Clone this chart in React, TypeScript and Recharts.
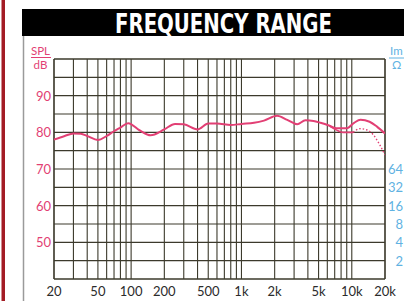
import React from "react";
import { LineChart, Line, XAxis, YAxis, CartesianGrid, ReferenceLine } from "recharts";

const freqs = [20, 25, 30, 35, 40, 50, 60, 70, 80, 94, 120, 150, 200, 250, 300, 400, 500, 600, 800, 1000, 1300, 1600, 2100, 2600, 3200, 3800, 4500, 5200, 6300, 7300, 8300, 9000, 10300, 10500, 11900, 12000, 13600, 14500, 15700, 17000, 18000, 20000];
const splMain: (number | null)[] = [78.0, 79.0, 79.7, 79.6, 79.0, 77.9, 79.0, 80.3, 81.3, 82.5, 80.5, 79.2, 80.8, 82.3, 82.2, 80.8, 82.4, 82.4, 82.0, 82.3, 82.6, 83.2, 84.5, 83.4, 82.2, 83.3, 83.1, 82.6, 81.8, 81.1, null, 81.1, null, 82.6, null, 83.4, null, 82.9, null, 81.5, null, 79.7];
const splAltSolid: (number | null)[] = [null, null, null, null, null, null, null, null, null, null, null, null, null, null, null, null, null, null, null, null, null, null, null, null, null, null, null, null, 81.7, 80.6, 80.0, null, 80.0, null, null, null, null, null, null, null, null, null];
const splAltDotted: (number | null)[] = [null, null, null, null, null, null, null, null, null, null, null, null, null, null, null, null, null, null, null, null, null, null, null, null, null, null, null, null, null, null, null, null, 80.0, null, 81.0, null, 80.7, null, 79.3, null, 76.5, 73.8];

const gridFreqs = [20, 30, 40, 50, 60, 70, 80, 90, 100, 200, 300, 400, 500, 600, 700, 800, 900, 1000, 2000, 3000, 4000, 5000, 6000, 7000, 8000, 9000, 10000, 20000];
const freqLabelValues = [20, 50, 100, 200, 500, 1000, 2000, 5000, 10000, 20000];
const freqLabelTexts = ["20", "50", "100", "200", "500", "1k", "2k", "5k", "10k", "20k"];
const dbGrid = [40, 45, 50, 55, 60, 65, 70, 75, 80, 85, 90, 95, 100];
const dbLabels = [50, 60, 70, 80, 90];
const ohmTicks = [2, 4, 8, 16, 32, 64];
const freqBounds = [20, 20000];
const dbBounds = [40, 100];

const data = freqs.map((f, i) => ({
  f,
  main: splMain[i],
  altSolid: splAltSolid[i],
  altDotted: splAltDotted[i],
}));

const PINK = "#e23f74";
const BLUE = "#5fb2e2";
const GRID = "#3c3a2c";
const FONT = "Lato, 'Open Sans', sans-serif";

const LeftTick = (props: any) => {
  const v = props.payload.value;
  if (!dbLabels.includes(v)) return null;
  return (
    <text x={51} y={props.y} textAnchor="end" dominantBaseline="central" fill={PINK} fontSize={13} fontFamily={FONT}>
      {v}
    </text>
  );
};

const RightTick = (props: any) => {
  const v = props.payload.value;
  return (
    <text x={403} y={props.y} textAnchor="end" dominantBaseline="central" fill={BLUE} fontSize={13} fontFamily={FONT}>
      {v}
    </text>
  );
};

const BottomTick = (props: any) => {
  const v = props.payload.value;
  const idx = freqLabelValues.indexOf(v);
  if (idx < 0) return null;
  return (
    <text x={props.x} y={291} textAnchor="middle" dominantBaseline="central" fill="#2b2b2b" fontSize={13} fontFamily={FONT}>
      {freqLabelTexts[idx]}
    </text>
  );
};

export default function App() {
  return (
    <div style={{ position: "absolute", left: 0, top: 0, width: 404, height: 301, background: "#fff", overflow: "hidden" }}>
      <svg width={404} height={301} style={{ position: "absolute", left: 0, top: 0 }}>
        <rect x={1.5} y={0} width={3.5} height={301} fill="#a31c24" />
        <rect x={22} y={9} width={382} height={27} fill="#000" />
        <line x1={23.5} y1={36} x2={23.5} y2={301} stroke="#9a9a9a" strokeWidth={1.5} />
        <text x={223.5} y={33} textAnchor="middle" fill="#fff" fontSize={26} fontWeight="bold"
          fontFamily="'Liberation Sans Narrow', 'DejaVu Sans Condensed', 'Arial Narrow', sans-serif"
          textLength={217} lengthAdjust="spacingAndGlyphs">
          FREQUENCY RANGE
        </text>
        <text x={40.5} y={54.5} textAnchor="middle" fill={PINK} fontSize={11.5} fontFamily={FONT}>SPL</text>
        <line x1={31} y1={57.5} x2={51} y2={57.5} stroke={PINK} strokeWidth={1} />
        <text x={40.5} y={69} textAnchor="middle" fill={PINK} fontSize={11.5} fontFamily={FONT}>dB</text>
        <text x={390} y={54.5} textAnchor="start" fill={BLUE} fontSize={11.5} fontFamily={FONT}>Im</text>
        <line x1={389} y1={58} x2={404} y2={58} stroke={BLUE} strokeWidth={1} />
        <text x={392} y={69} textAnchor="start" fill={BLUE} fontSize={11.5} fontFamily={FONT}>Ω</text>
      </svg>
      <div style={{ position: "absolute", left: 0, top: 0 }}>
        <LineChart width={404} height={301} data={data} margin={{ top: 59, right: 0, bottom: 0, left: 0 }}>
          <CartesianGrid yAxisId="db" stroke={GRID} strokeWidth={1.1} horizontalValues={dbGrid} verticalValues={gridFreqs} />
          <XAxis dataKey="f" type="number" scale="log" domain={[20, 20000]} ticks={gridFreqs}
            interval={0} height={22} axisLine={false} tickLine={false} tick={<BottomTick />} allowDataOverflow />
          <YAxis yAxisId="db" type="number" domain={[40, 100]} ticks={dbGrid} interval={0} width={54}
            axisLine={false} tickLine={false} tick={<LeftTick />} />
          <YAxis yAxisId="ohm" orientation="right" type="number" scale="log" domain={[1, 4096]} ticks={ohmTicks}
            interval={0} width={19} axisLine={false} tickLine={false} tick={<RightTick />} allowDataOverflow />
          {freqBounds.map((v) => (
            <ReferenceLine key={"x" + v} yAxisId="db" x={v} stroke={GRID} strokeWidth={1.2} />
          ))}
          {dbBounds.map((v) => (
            <ReferenceLine key={"y" + v} yAxisId="db" y={v} stroke={GRID} strokeWidth={1.2} />
          ))}
          <Line yAxisId="db" dataKey="main" stroke={PINK} strokeWidth={2} dot={false} connectNulls isAnimationActive={false} type="monotone" />
          <Line yAxisId="db" dataKey="altSolid" stroke={PINK} strokeWidth={1.6} dot={false} connectNulls isAnimationActive={false} type="monotone" />
          <Line yAxisId="db" dataKey="altDotted" stroke={PINK} strokeWidth={1.4} strokeDasharray="1.5 2" dot={false} connectNulls isAnimationActive={false} type="monotone" />
        </LineChart>
      </div>
    </div>
  );
}
